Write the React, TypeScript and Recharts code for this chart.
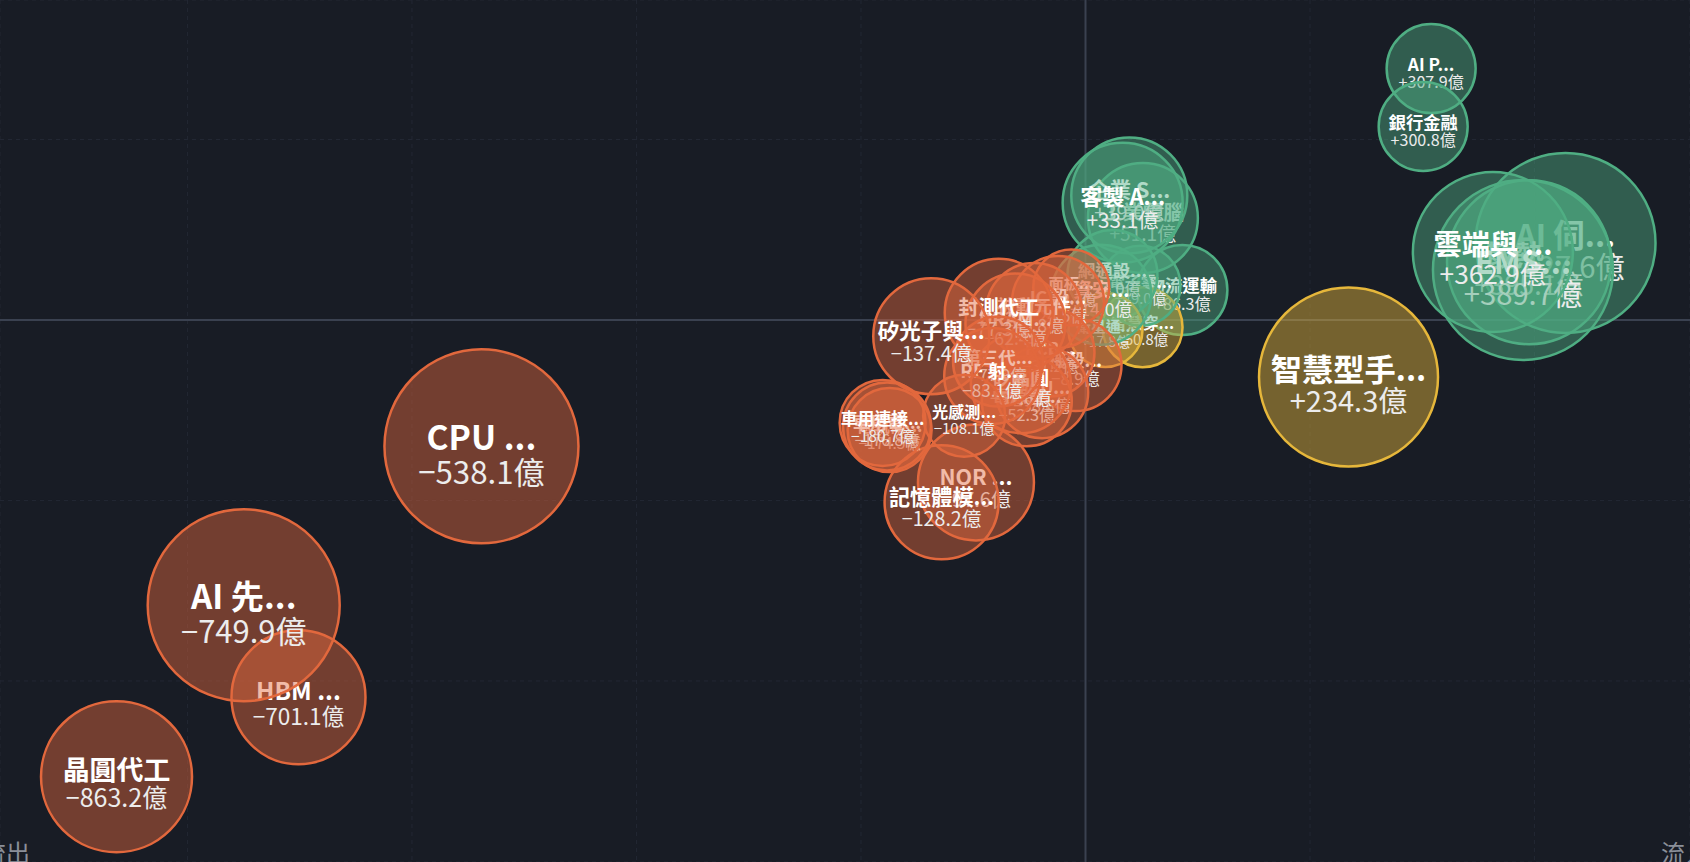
import React from 'react'
import {
  ScatterChart, Scatter, XAxis, YAxis, ZAxis, CartesianGrid, ReferenceLine,
} from 'recharts'

// 類股 (顯示名稱)
const sectors = [
  'AI 伺...', '散熱...', 'EMS...', '雲端與 ...', 'AI P...', '銀行金融', '智慧型手...',
  '物流運輸', '工業電腦', '智慧穿...', '電子零...', '企業 S...', '客製 A...', '網通設...',
  '衛星通...', '資安...',
  '機殼...', '面板...', 'IC 設...', 'PCB...', 'MCU...', '被動元件', '電源管...', '矽晶圓',
  'DRAM...', '封測代工', '第三代...', 'RF 射...', 'NOR ...', '光感測...', '記憶體模...',
  '矽光子與...', '低軌衛...', '車用電...', '車用連接...', 'CPU ...', 'HBM ...', 'AI 先...', '晶圓代工',
]
// 資金淨流入 (億)
const flows = [
  427.6, 395.1, 389.7, 362.9, 307.9, 300.8, 234.3,
  86.3, 51.1, 50.8, 49.0, 39.0, 33.1, 24.0,
  17.8, 14.0,
  -8.9, -12.7, -24.5, -31.2, -38.6, -45.8, -52.3, -57.6,
  -62.4, -77.3, -77.9, -83.1, -97.6, -108.1, -128.2,
  -137.4, -174.5, -176.8, -180.7, -538.1, -701.1, -749.9, -863.2,
]
// 動能 (%)
const momentum = [
  4.27, 3.2, 2.77, 3.77, 13.93, 10.72, -3.16,
  1.66, 5.65, -0.4, 1.9, 6.9, 6.5, 2.5,
  -0.55, 1.4,
  -2.5, 1.8, 1.0, -1.8, -4.0, 0.5, -4.5, -3.5,
  -0.2, 0.4, -2.3, -3.1, -9.0, -5.3, -10.1,
  -0.9, -6.1, -5.9, -5.7, -7.0, -20.9, -15.8, -25.3,
]
// 成交規模 (泡泡大小)
const volumes = [
  8100, 6724, 8100, 6400, 1980, 1980, 8010,
  2025, 3025, 1600, 1600, 3364, 3600, 2025,
  1369, 2500,
  2116, 1444, 2116, 1936, 2116, 2304, 2025, 2500,
  2500, 2916, 2025, 2304, 3364, 1681, 3249,
  3364, 1764, 1936, 1849, 9409, 4489, 9216, 5700,
]

const xTicks = [-800, -600, -400, -200, 0, 200, 400]
const yTicks = [-30, -20, -10, 0, 10]

const RED = '#e2683d'
const GREEN = '#4fae83'
const YELLOW = '#e6b73b'
const BG = '#181c25'
const FONT = '"Noto Sans CJK TC", "Noto Sans", sans-serif'

const data = sectors
  .map((name, i) => ({ name, flow: flows[i], mom: momentum[i], vol: volumes[i] }))
  .sort((a, b) => b.flow - a.flow)

const fmt = (v: number) => (v < 0 ? '\u2212' : '+') + Math.abs(v).toFixed(1) + '億'

const Bubble = (props: any) => {
  const { cx, cy, width, payload } = props
  const r = width / 2
  const color = payload.flow < 0 ? RED : payload.mom < 0 ? YELLOW : GREEN
  const f = 3.5 + r * 0.31
  return (
    <g>
      <circle cx={cx} cy={cy} r={r} fill={color} fillOpacity={0.45} stroke={color} strokeWidth={2.5} />
      <text x={cx} y={cy + f * 0.12} textAnchor="middle" fill="#ffffff"
        fontSize={f} fontWeight={700} fontFamily={FONT}>
        {payload.name}
      </text>
      <text x={cx} y={cy + f * 1.13} textAnchor="middle" fill="#ececec"
        fontSize={f * 0.93} fontFamily={FONT}>
        {fmt(payload.flow)}
      </text>
    </g>
  )
}

const cornerStyle: React.CSSProperties = {
  position: 'absolute', top: 834, fontSize: 24, color: '#8a8f99', fontFamily: FONT, whiteSpace: 'nowrap',
}

const App = () => {
  return (
    <div style={{
      position: 'absolute', left: 0, top: 0, width: 1690, height: 862, overflow: 'hidden', background: BG,
    }}>
      <ScatterChart width={1690} height={862} margin={{ top: 0, right: 0, bottom: 0, left: 0 }}>
        <CartesianGrid stroke="#222733" strokeDasharray="4 4" />
        <XAxis type="number" dataKey="flow" domain={[-967, 538.5]} ticks={xTicks} allowDataOverflow hide />
        <YAxis type="number" dataKey="mom" domain={[-30.03, 17.73]} ticks={yTicks} allowDataOverflow hide />
        <ZAxis type="number" dataKey="vol" domain={[0, 10000]} range={[0, Math.PI * 10000]} />
        <ReferenceLine x={0} stroke="#3a4150" strokeWidth={2} />
        <ReferenceLine y={0} stroke="#3a4150" strokeWidth={2} />
        <Scatter data={data} shape={Bubble} isAnimationActive={false} />
      </ScatterChart>
      <span style={{ ...cornerStyle, right: 1660 }}>資金流出</span>
      <span style={{ ...cornerStyle, left: 1661 }}>流入</span>
    </div>
  )
}

export default App
